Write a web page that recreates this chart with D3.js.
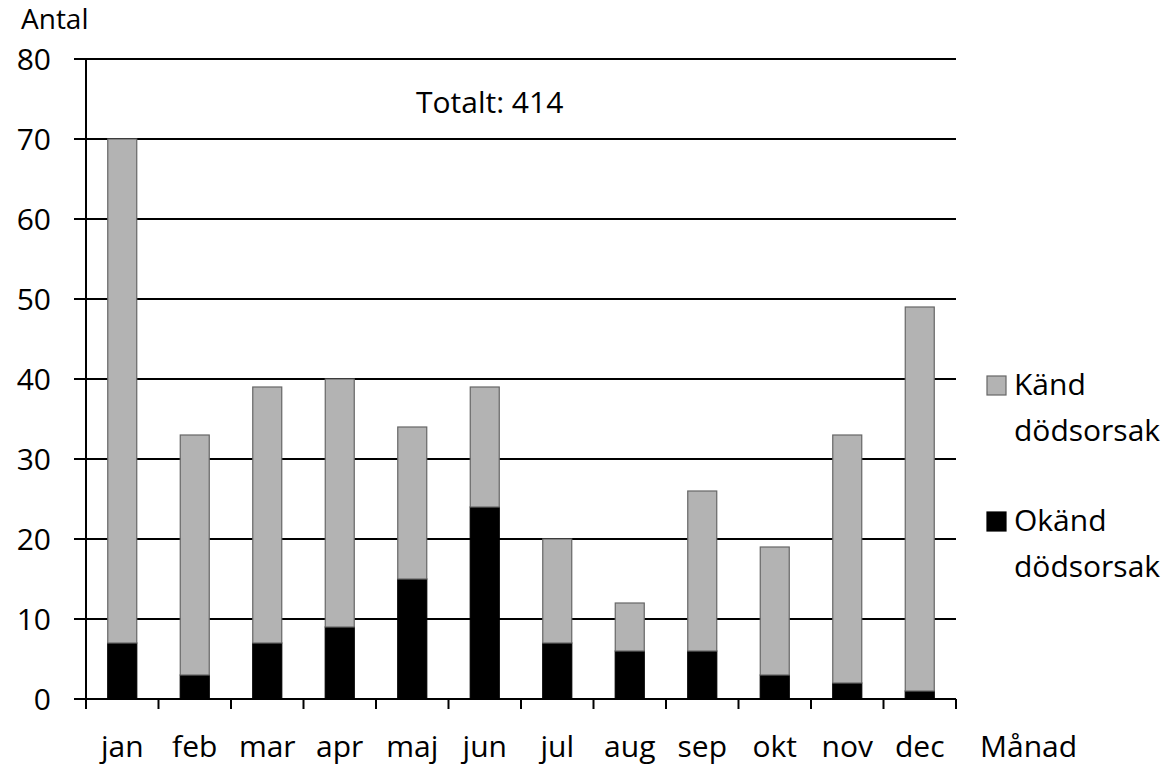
<!DOCTYPE html>
<html><head><meta charset="utf-8">
<script src="https://cdn.jsdelivr.net/npm/d3@7"></script>
<style>body{margin:0;background:#fff}svg{display:block}text{font-family:"Open Sans",Lato,sans-serif;fill:#000}</style>
</head><body>
<svg id="c" width="1174" height="780"></svg>
<script>
const months = ["jan","feb","mar","apr","maj","jun","jul","aug","sep","okt","nov","dec"];
const totals = [70,33,39,40,34,39,20,12,26,19,33,49];
const okand  = [7,3,7,9,15,24,7,6,6,3,2,1];
const kand   = totals.map((t,i)=>t-okand[i]);
const yTicks = [0,10,20,30,40,50,60,70,80];
const colors = {okand:"#000000", kand:"#b3b3b3"};

const svg = d3.select("#c");
const L=86, R=956, T=59, B=699;
const FS = 30;
const xb = d3.scaleBand().domain(months).range([L,R]);
const y = d3.scaleLinear().domain([0,80]).range([B,T]);

// gridlines
svg.append("g").selectAll("line").data(yTicks).join("line")
  .attr("x1",L-12).attr("x2",R).attr("y1",d=>y(d)).attr("y2",d=>y(d))
  .attr("stroke","#000").attr("stroke-width",2);
// y labels
svg.append("g").selectAll("text").data(yTicks).join("text")
  .attr("x",51).attr("y",d=>y(d)).attr("dy","0.36em").attr("text-anchor","end")
  .attr("font-size",FS).text(d=>d);

const data = months.map((m,i)=>({m, okand:okand[i], kand:kand[i]}));
const stack = d3.stack().keys(["okand","kand"])(data);
svg.append("g").selectAll("g").data(stack).join("g")
  .attr("fill",s=>colors[s.key]).attr("stroke",s=>s.key==="kand"?"#666":"#000").attr("stroke-width",1.2)
  .selectAll("rect").data(s=>s).join("rect")
  .attr("x",d=>xb(d.data.m)+xb.bandwidth()/2-14.5).attr("width",29)
  .attr("y",d=>y(d[1])).attr("height",d=>y(d[0])-y(d[1]));

// axes lines
svg.append("line").attr("x1",L).attr("x2",L).attr("y1",T).attr("y2",B+10).attr("stroke","#000").attr("stroke-width",2);
svg.append("line").attr("x1",L).attr("x2",R).attr("y1",B).attr("y2",B).attr("stroke","#000").attr("stroke-width",2);
const edges = months.map(m=>xb(m)).concat([R]);
svg.append("g").selectAll("line").data(edges).join("line")
  .attr("x1",d=>d).attr("x2",d=>d).attr("y1",B).attr("y2",B+10).attr("stroke","#000").attr("stroke-width",2);
svg.append("g").selectAll("text").data(months).join("text")
  .attr("x",d=>xb(d)+xb.bandwidth()/2).attr("y",757).attr("text-anchor","middle")
  .attr("font-size",FS).text(d=>d);

svg.append("text").attr("x",21).attr("y",29).attr("font-size",28).text("Antal");
svg.append("text").attr("x",980).attr("y",757).attr("font-size",FS).text("Månad");
svg.append("text").attr("x",416).attr("y",113).attr("font-size",FS).text("Totalt: 414");

// legend
const leg = [
  {key:"kand", l1:"Känd", l2:"dödsorsak", y:395},
  {key:"okand", l1:"Okänd", l2:"dödsorsak", y:531}
];
const lg = svg.append("g").selectAll("g").data(leg).join("g");
lg.append("rect").attr("x",987).attr("y",d=>d.y-19).attr("width",19).attr("height",19)
  .attr("fill",d=>colors[d.key]).attr("stroke",d=>d.key==="kand"?"#666":"#000").attr("stroke-width",1.2);
lg.append("text").attr("x",1014).attr("y",d=>d.y).attr("font-size",FS).text(d=>d.l1);
lg.append("text").attr("x",1014).attr("y",d=>d.y+46).attr("font-size",FS).text(d=>d.l2);
</script>
</body></html>
